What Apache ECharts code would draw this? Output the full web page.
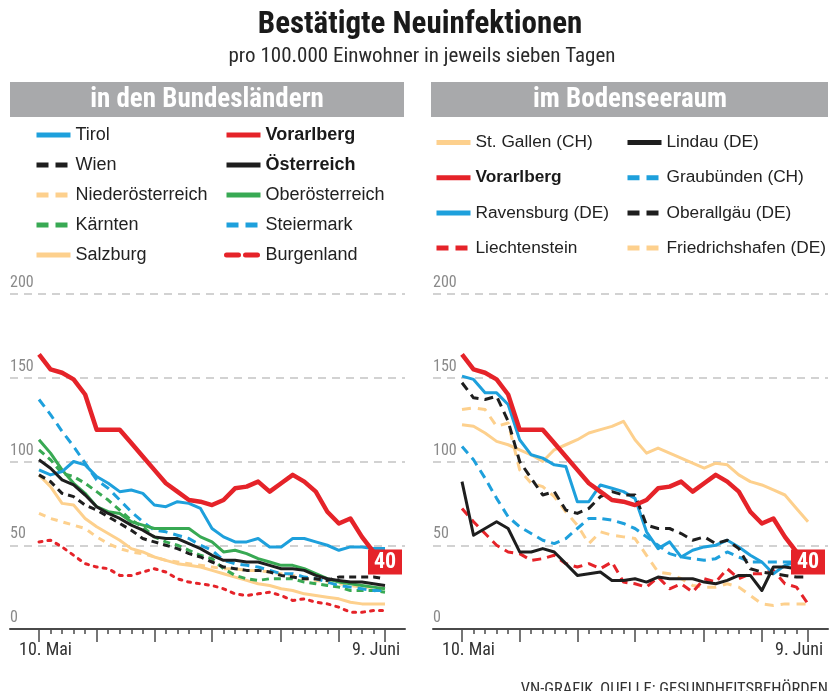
<!DOCTYPE html>
<html><head><meta charset="utf-8">
<script src="https://cdn.jsdelivr.net/npm/echarts@6/dist/echarts.min.js"></script>
<style>html,body{margin:0;padding:0;background:#fff}#c{width:830px;height:691px}</style>
</head><body><div id="c"></div><script>
// ---------- data ----------
const days = ['10. Mai','11. Mai','12. Mai','13. Mai','14. Mai','15. Mai','16. Mai','17. Mai','18. Mai','19. Mai','20. Mai','21. Mai','22. Mai','23. Mai','24. Mai','25. Mai','26. Mai','27. Mai','28. Mai','29. Mai','30. Mai','31. Mai','1. Juni','2. Juni','3. Juni','4. Juni','5. Juni','6. Juni','7. Juni','8. Juni','9. Juni'];
const majorTicks = [0,5,10,15,21,26,30];
const yMin = 0, yMax = 200, yStep = 50;

// Bundesländer
const tirol = [95,92,94,100,98,91,87,82,83,81,74,73,76,75,72,60,55,52,52,54,49,49,54,54,52,50,47,49,49,48,48];
const vorarlberg = [164,155,153,149,140,119,119,119,111,103,95,87,82,77,76,74,77,84,85,88,82,87,92,88,82,70,63,66,55,46,40];
const wien = [92,88,81,79,74,71,67,63,59,54,52,50,48,45,43,40,37,36,35,35,34,32,31,30,30,29,31,31,31,31,30];
const oesterreich = [101,96,89,86,80,73,69,66,62,59,55,54,54,51,48,44,41,41,40,40,38,36,36,35,32,30,29,28,28,27,26];
const niederoesterreich = [69,66,64,62,60,55,51,48,46,45,43,41,40,39,38,37,36,36,35,35,34,33,32,30,29,28,27,26,25,25,24];
const oberoesterreich = [113,105,95,87,81,73,70,69,64,62,60,60,60,60,55,52,46,47,45,42,40,38,38,36,33,30,28,27,26,25,24];
const kaernten = [107,101,93,91,87,82,77,71,65,61,55,52,50,47,44,42,36,32,30,29,30,30,30,28,27,26,25,23,23,23,22];
const steiermark = [137,128,118,109,99,89,84,77,70,64,59,58,56,54,50,47,41,39,38,37,35,33,33,31,30,28,26,25,24,23,23];
const salzburg = [92,85,75,74,66,61,57,53,48,46,43,41,39,38,37,35,33,31,29,27,26,24,23,21,20,19,18,16,15,15,15];
const burgenland = [52,53,49,44,39,37,36,32,32,34,36,34,30,28,27,26,24,21,20,21,22,20,17,18,16,15,13,10,10,11,11];

// Bodenseeraum
const stGallen = [122,121,117,112,110,107,104,100,107,110,113,117,119,121,124,113,105,108,105,102,99,96,99,98,92,88,86,83,80,72,64];
const lindau = [88,56,60,64,60,46,46,48,46,39,32,33,34,29,29,30,28,31,30,30,30,28,27,29,32,32,23,37,37,36,36];
const graubuenden = [109,101,90,78,67,61,57,53,51,54,60,66,66,65,63,60,55,50,45,43,42,41,42,46,43,40,40,40,40,40,40];
const ravensburg = [151,149,141,141,134,113,104,102,98,97,76,76,86,84,82,78,58,48,52,43,47,49,50,53,49,44,40,33,38,40,40];
const oberallgaeu = [147,138,137,139,124,100,90,80,82,71,69,72,79,82,80,80,62,60,60,57,53,55,51,53,48,36,34,33,32,31,31];
const liechtenstein = [72,64,57,50,46,45,41,42,44,39,37,39,36,40,28,27,25,31,24,27,22,30,28,36,30,33,33,35,27,25,15];
const friedrichshafen = [131,132,131,121,123,95,87,85,79,70,62,51,58,56,55,54,44,34,33,30,26,25,25,27,25,20,15,14,15,15,15];

const NARROW = "'Roboto Condensed', 'DejaVu Sans Condensed', sans-serif";
const FONT = "'Liberation Sans', Arial, sans-serif";

// ---------- colours ----------
const BLUE='#1ea0dc', RED='#e52329', GREEN='#38a953', ORANGE='#fdd08d', BLACK='#1e1e1e';

function ln(name, data, color, width, dash, side, z){
  return {type:'line', name, data, xAxisIndex: side?4:1, yAxisIndex: side?3:1,
    symbol:'none', showSymbol:false, animation:false, z: z||2,
    lineStyle:{color, width, type: dash||'solid', cap: (dash && dash[0]<=3)?'round':'butt', join:'round'},
    itemStyle:{color}, emphasis:{disabled:true}};
}
function vorarlbergSeries(side){
  const s = ln('Vorarlberg', vorarlberg, RED, 4.5, null, side, 3);
  s.markPoint = {symbol:'rect', symbolSize:[34,25], z:10, itemStyle:{color:RED},
    label:{show:true, color:'#fff', fontSize:22, fontWeight:'bold', fontFamily:NARROW, formatter:'{c}'},
    data:[{coord:[days.length-1, vorarlberg[vorarlberg.length-1]], value: vorarlberg[vorarlberg.length-1]}]};
  return s;
}

const series = [
  ln('Salzburg', salzburg, ORANGE, 3, null, 0),
  ln('Niederösterreich', niederoesterreich, ORANGE, 3, [7,6], 0),
  ln('Burgenland', burgenland, RED, 3, [3,6], 0),
  ln('Kärnten', kaernten, GREEN, 3, [7,5], 0),
  ln('Steiermark', steiermark, BLUE, 3, [9,6], 0),
  ln('Oberösterreich', oberoesterreich, GREEN, 3, null, 0),
  ln('Wien', wien, BLACK, 3, [7,5], 0),
  ln('Tirol', tirol, BLUE, 3, null, 0),
  ln('Österreich', oesterreich, BLACK, 3, null, 0),
  vorarlbergSeries(0),
  ln('St. Gallen (CH)', stGallen, ORANGE, 3, null, 1),
  ln('Friedrichshafen (DE)', friedrichshafen, ORANGE, 3, [9,7], 1),
  ln('Liechtenstein', liechtenstein, RED, 3, [9,6], 1),
  ln('Graubünden (CH)', graubuenden, BLUE, 3, [9,6], 1),
  ln('Ravensburg (DE)', ravensburg, BLUE, 3, null, 1),
  ln('Oberallgäu (DE)', oberallgaeu, BLACK, 3, [9,6], 1),
  ln('Lindau (DE)', lindau, BLACK, 3, null, 1),
  vorarlbergSeries(1)
];

const DASH=[12,7];
function legend(items, left, top, gap, fs){
  return {orient:'vertical', left, top, padding:0, itemGap:gap, itemWidth:34, itemHeight:20,
    selectedMode:false, data: items.map(it => typeof it==='string' ? {name:it} : it),
    formatter: n => (n==='Vorarlberg'||n==='Österreich') ? '{b|'+n+'}' : '{n|'+n+'}',
    textStyle:{fontSize:fs, color:'#222', fontFamily:FONT,
      rich:{b:{fontSize:fs, fontWeight:'bold', color:'#1a1a1a', fontFamily:FONT, lineHeight:20},
            n:{fontSize:fs, color:'#222', fontFamily:FONT, lineHeight:20}}},
    itemStyle:{opacity:0}, lineStyle:{width:5}};
}
const d = n => ({name:n, lineStyle:{type:DASH, width:5}});

const frameY = (grid) => ({type:'value', gridIndex:grid, min:yMin, max:yMax, interval:yStep,
  axisLine:{show:false}, axisTick:{show:false},
  splitLine:{show:true, lineStyle:{color:'#d2d2d2', width:2, type:[8,6]}},
  axisLabel:{inside:true, margin:0, verticalAlign:'bottom', padding:[0,0,3,0], color:'#8a8a8a', fontSize:16, fontFamily:NARROW}});
const dataY = (grid) => ({type:'value', gridIndex:grid, min:yMin, max:yMax, interval:yStep, show:false, splitLine:{show:false}});
const frameX = (grid) => ({type:'value', gridIndex:grid, position:'bottom', min:0, max:1, axisLine:{show:true, onZero:false, lineStyle:{color:'#4a4a4a', width:2}}, axisTick:{show:false}, axisLabel:{show:false}, splitLine:{show:false}});
const catX = (grid) => ({type:'category', gridIndex:grid, position:'bottom', data:days, boundaryGap:false,
  axisLine:{show:false, onZero:false}, axisTick:{show:true, length:5, interval:0, lineStyle:{color:'#4a4a4a', width:1.5}},
  axisLabel:{show:true, interval:0, margin:12, color:'#333', fontSize:18, fontFamily:NARROW,
    formatter:(v,i)=> i===0 ? '{a|'+v+'}' : (i===days.length-1 ? '{z|'+v+'}' : ''),
    rich:{a:{padding:[0,0,0,13], fontSize:18, fontFamily:NARROW, color:'#333'}, z:{padding:[0,18,0,0], fontSize:18, fontFamily:NARROW, color:'#333'}}},
  splitLine:{show:false}});
const majX = (grid) => ({type:'category', gridIndex:grid, position:'bottom', data:days, boundaryGap:false,
  axisLine:{show:false, onZero:false}, axisTick:{show:true, length:13, interval:(i)=>majorTicks.includes(i), lineStyle:{color:'#4a4a4a', width:1.5}},
  axisLabel:{show:false}, splitLine:{show:false}});

const option = {
  animation:false,
  grid:[
    {left:10, top:294, width:395, height:335},
    {left:39, top:294, width:346, height:335},
    {left:433, top:294, width:395, height:335},
    {left:462, top:294, width:346, height:335}
  ],
  xAxis:[frameX(0), catX(1), majX(1), frameX(2), catX(3), majX(3)],
  yAxis:[frameY(0), dataY(1), frameY(2), dataY(3)],
  legend:[
    legend(['Tirol', d('Wien'), d('Niederösterreich'), d('Kärnten'), 'Salzburg'], 34, 126, 12, 18),
    legend(['Vorarlberg', 'Österreich', 'Oberösterreich', d('Steiermark'), d('Burgenland')], 224, 126, 12, 18),
    legend(['St. Gallen (CH)', 'Vorarlberg', 'Ravensburg (DE)', d('Liechtenstein')], 434, 134, 18.2, 17.3),
    legend(['Lindau (DE)', d('Graubünden (CH)'), d('Oberallgäu (DE)'), d('Friedrichshafen (DE)')], 625, 134, 18.2, 17.3)
  ],
  graphic:[
    {type:'text', x:420, y:25, style:{text:'Bestätigte Neuinfektionen', fill:'#1a1a1a', font:'bold 31px '+NARROW, textAlign:'center', textVerticalAlign:'middle'}},
    {type:'text', x:422, y:57, style:{text:'pro 100.000 Einwohner in jeweils sieben Tagen', fill:'#2a2a2a', font:'21px '+NARROW, textAlign:'center', textVerticalAlign:'middle'}},
    {type:'rect', shape:{x:10, y:82, width:394, height:35}, style:{fill:'#a8a9ab'}},
    {type:'text', x:207, y:100, style:{text:'in den Bundesländern', fill:'#fff', font:'bold 27px '+NARROW, textAlign:'center', textVerticalAlign:'middle'}},
    {type:'rect', shape:{x:431, y:82, width:397, height:35}, style:{fill:'#a8a9ab'}},
    {type:'text', x:630, y:100, style:{text:'im Bodenseeraum', fill:'#fff', font:'bold 27px '+NARROW, textAlign:'center', textVerticalAlign:'middle'}},
    {type:'text', x:828, y:681, style:{text:'VN-GRAFIK, QUELLE: GESUNDHEITSBEHÖRDEN', fill:'#333', font:'16.5px '+NARROW, textAlign:'right', textVerticalAlign:'top'}}
  ],
  series
};
const chart = echarts.init(document.getElementById('c'), null, {renderer:'canvas'});
chart.setOption(option);
</script></body></html>
